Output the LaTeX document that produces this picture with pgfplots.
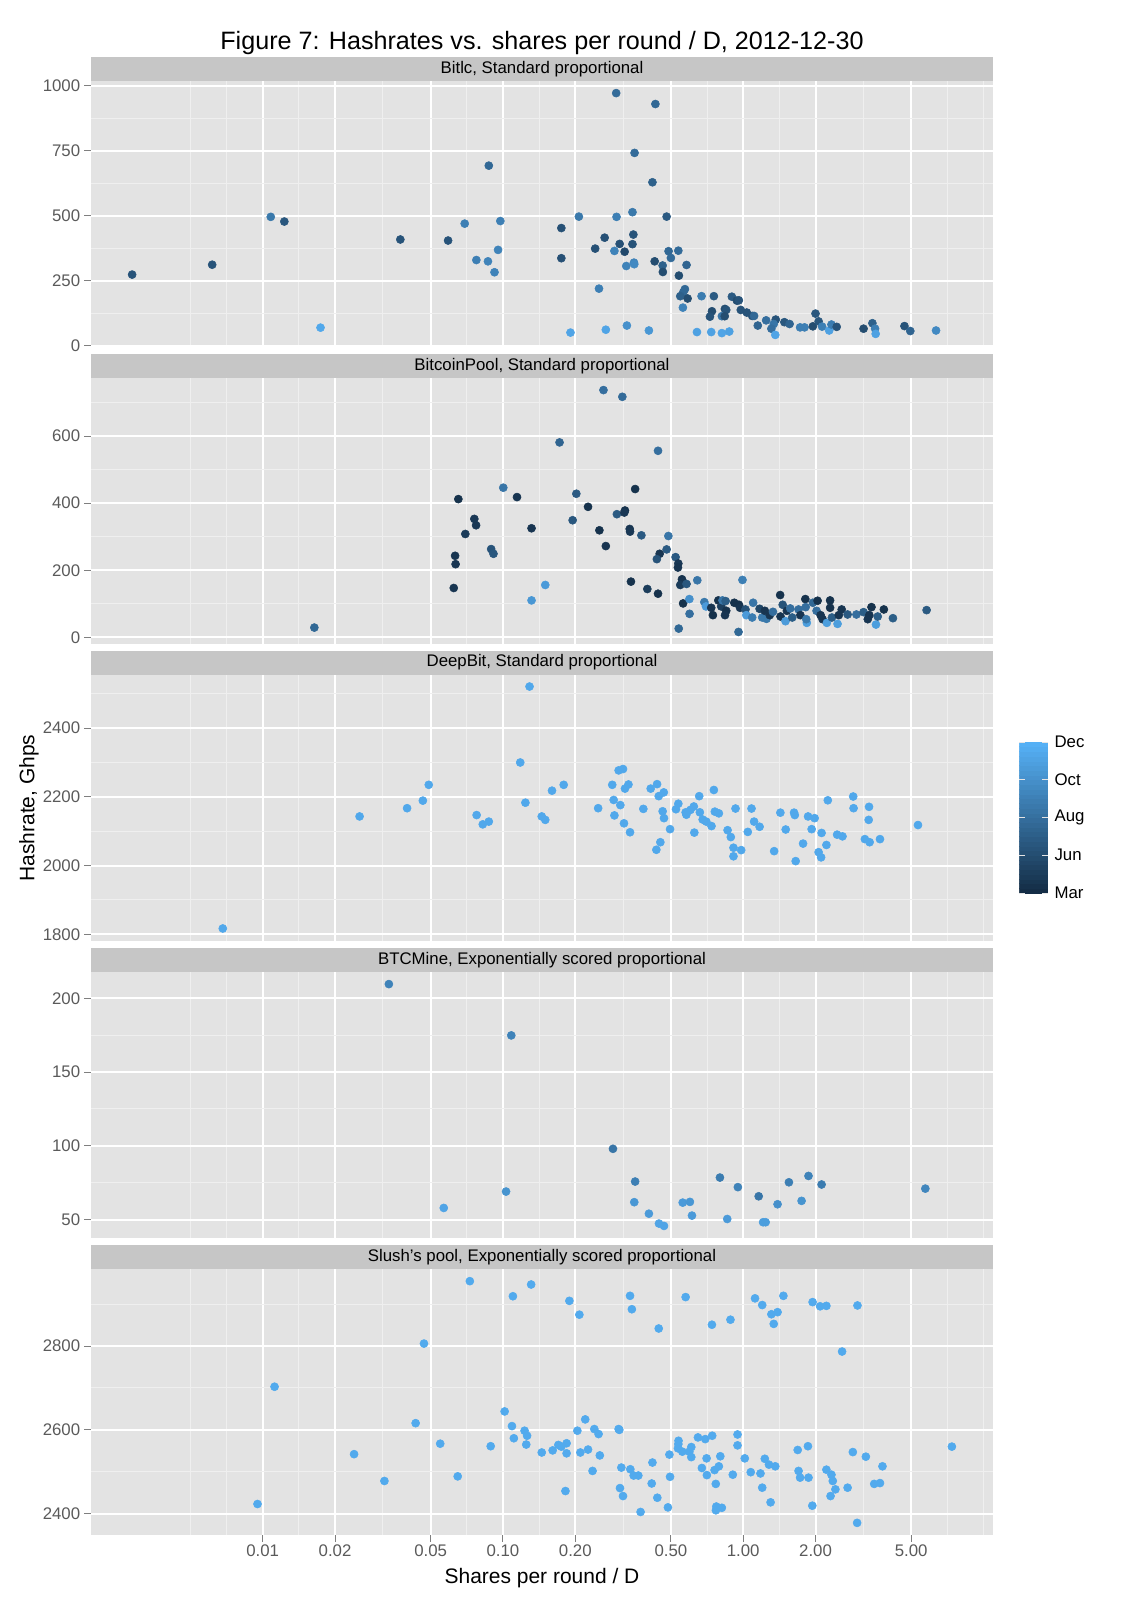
\documentclass[border=0pt]{standalone}
\usepackage{pgfplots}
\pgfplotsset{compat=1.18}
\usepackage{pgfplotstable}
\usepackage{fontspec}
\setmainfont{Liberation Sans}
\definecolor{panelbg}{HTML}{E3E3E3}
\definecolor{stripbg}{HTML}{C6C6C6}
\definecolor{minorgrid}{HTML}{EFEFEF}
\definecolor{ticktext}{HTML}{5A5A5A}
\definecolor{tickline}{HTML}{7F7F7F}
\pgfplotsset{colormap={gg}{rgb255=(19,43,67) rgb255=(86,177,247)}}
\pgfkeys{/pgf/number format/assume math mode=true}
\pgfplotsset{
 ggpanel/.style={
  scale only axis, width=649.44pt, height=191.52pt,
  xmin=0.001928, xmax=10.96,
  axis background/.style={fill=panelbg},
  axis line style={draw=none},
  xtick={0.01,0.02,0.05,0.1,0.2,0.5,1,2,5},
  minor xtick={0.005,0.0070711,0.0141421,0.0316228,0.0707107,0.1414214,0.3162278,0.7071068,1.4142136,3.1622777,7.0710678,10},
  xmajorgrids, ymajorgrids, xminorgrids, yminorgrids,
  major grid style={white, line width=1.44pt},
  minor grid style={minorgrid, line width=0.72pt},
  tick align=outside, xtick pos=bottom, ytick pos=left,
  major tick length=5pt, minor tick length=0pt,
  ytick style={draw=tickline, line width=0.72pt},
  tick label style={font=\fontsize{12.1}{14}\selectfont, text=ticktext},
  yticklabel style={inner sep=2.6pt},
  colormap name=gg, point meta min=0, point meta max=4,
  anchor=north west,
 },
 notbottom/.style={xticklabels={}, xtick style={draw=none}},
 ggpts/.style={scatter, only marks, mark=*, mark size=2.9pt, scatter src=explicit,
  scatter/use mapped color={draw=mapped color, fill=mapped color}},
}

\pgfplotstableread{
x y m
0.00286 273 1.2
0.00616 311 1.2
0.0108 495 2.3
0.0123 477 1.3
0.0174 69 3.7
0.0374 408 1.2
0.0591 404 1.2
0.0693 469 2.5
0.0873 692 1.8
0.0975 479 2.5
0.0954 368 2.6
0.0775 329 2.5
0.0866 324 2.6
0.0922 282 2.6
0.296 971 1.9
0.431 929 1.8
0.353 741 1.9
0.419 628 1.6
0.207 496 2.3
0.297 495 2.5
0.346 513 2.3
0.480 496 1.4
0.175 452 1.1
0.175 336 1.1
0.265 415 1.1
0.242 373 1.1
0.306 391 1.1
0.349 427 1.2
0.346 390 1.2
0.321 361 0.9
0.291 364 2.6
0.351 319 2.6
0.352 313 2.8
0.326 306 2.6
0.251 219 2.5
0.428 324 1.0
0.462 308 1.6
0.463 283 1.0
0.489 363 1.8
0.537 365 1.9
0.500 337 1.9
0.581 310 1.7
0.540 269 1.0
0.572 217 1.8
0.563 205 1.8
0.547 190 1.6
0.587 181 1.0
0.561 146 2.6
0.671 190 2.4
0.755 190 1.4
0.897 188 1.4
0.941 173 1.0
0.959 174 1.2
0.741 132 1.0
0.727 111 1.2
0.839 141 1.0
0.850 137 1.2
0.815 113 2.2
0.838 113 1.0
0.977 137 1.2
1.035 127 1.2
1.09 114 1.2
1.11 114 1.8
1.15 77 1.7
1.246 97 2.0
1.366 100 1.2
1.34 83 2.2
1.31 65 2.0
1.36 41 3.6
1.484 90 1.3
1.56 83 1.7
1.725 70 2.5
1.8 70 2.5
1.95 74 1.0
2.0 123 1.3
2.06 93 1.3
2.13 73 2.5
2.28 58 3.5
2.33 81 2.4
2.45 72 1.2
3.17 65 1.0
3.45 86 1.6
3.54 65 2.5
3.56 45 3.5
4.69 75 1.2
4.96 56 1.7
6.35 58 2.8
0.191 50 3.6
0.268 61 3.6
0.328 77 3.0
0.405 58 3.2
0.642 52 3.5
0.736 52 3.5
0.815 48 3.6
0.875 54 3.5
}\pA

\pgfplotstableread{
x y m
0.0164 29 1.8
0.0652 412 0.2
0.0760 353 0.4
0.0773 334 0.4
0.0697 308 0.5
0.0632 243 0.3
0.0635 218 0.3
0.0624 147 0.3
0.0893 263 1.2
0.0913 249 1.3
0.1003 446 2.2
0.1144 418 0.3
0.1315 325 0.3
0.1315 110 3.2
0.262 737 2.0
0.314 717 1.9
0.172 581 1.7
0.442 556 2.0
0.355 442 0.2
0.202 428 1.4
0.226 389 0.2
0.195 349 1.3
0.252 319 0.2
0.268 272 0.3
0.298 367 1.4
0.322 378 0.2
0.32 372 0.4
0.337 323 0.3
0.338 315 0.4
0.377 304 1.4
0.488 302 2.2
0.480 262 1.4
0.449 249 0.3
0.437 233 1.2
0.523 239 1.4
0.537 220 0.4
0.535 208 0.3
0.556 173 0.2
0.56 166 0.3
0.547 156 0.5
0.581 159 1.3
0.644 170 2.2
0.341 166 0.2
0.399 144 0.5
0.442 130 0.2
0.150 156 3.3
0.562 101 0.2
0.597 114 3.0
0.598 70 2.0
0.539 26 1.8
0.993 171 2.5
0.956 16 1.8
0.689 105 2.3
0.70 92 3.3
0.736 88 0.3
0.748 66 0.2
0.788 110 0.2
0.81 92 0.6
0.82 110 2.2
0.845 108 1.5
0.85 79 0.2
0.84 66 0.3
0.918 103 0.2
0.96 97 0.2
0.97 88 0.3
1.022 83 1.2
1.03 66 3.3
1.10 103 2.2
1.09 59 2.4
1.17 85 0.8
1.2 59 2.3
1.23 79 0.3
1.25 55 2.3
1.29 66 0.3
1.33 76 2.0
1.425 126 0.2
1.46 97 1.2
1.43 62 0.3
1.5 48 3.3
1.52 79 0.3
1.57 86 2.0
1.6 59 1.5
1.7 83 2.0
1.73 66 0.3
1.814 114 0.2
1.82 90 2.0
1.84 43 3.4
1.83 54 2.3
1.95 103 1.8
2.04 109 0.2
2.02 79 2.0
2.1 66 0.3
2.14 54 0.3
2.23 43 3.4
2.30 110 0.2
2.30 88 0.2
2.34 59 1.5
2.47 40 3.4
2.50 66 0.3
2.57 83 0.3
2.72 68 1.4
2.96 68 2.0
3.17 75 1.5
3.3 54 0.3
3.35 66 0.3
3.42 90 0.2
3.57 38 3.4
3.63 62 1.5
3.85 83 0.2
4.2 57 1.5
5.8 81 1.4
}\pB

\pgfplotstableread{
x y m
0.00682 1817 3.7
0.0253 2143 3.7
0.0399 2167 3.7
0.0464 2189 3.7
0.0491 2235 3.7
0.0777 2147 3.7
0.0824 2120 3.7
0.0873 2128 3.7
0.118 2300 3.7
0.129 2521 3.7
0.124 2183 3.7
0.145 2143 3.7
0.150 2133 3.7
0.160 2218 3.7
0.179 2235 3.7
0.249 2167 3.7
0.285 2235 3.7
0.303 2277 3.7
0.316 2281 3.7
0.289 2191 3.7
0.308 2176 3.7
0.291 2146 3.7
0.319 2123 3.7
0.338 2097 3.7
0.322 2224 3.7
0.333 2236 3.7
0.384 2165 3.7
0.412 2224 3.7
0.438 2237 3.7
0.445 2202 3.7
0.467 2213 3.7
0.462 2158 3.7
0.468 2138 3.7
0.452 2068 3.7
0.435 2046 3.7
0.496 2106 3.7
0.525 2164 3.7
0.537 2180 3.7
0.576 2155 3.7
0.58 2148 3.7
0.603 2162 3.7
0.623 2172 3.7
0.626 2096 3.7
0.656 2202 3.7
0.660 2155 3.7
0.678 2134 3.7
0.702 2128 3.7
0.738 2115 3.7
0.755 2220 3.7
0.762 2157 3.7
0.792 2152 3.7
0.861 2103 3.7
0.888 2083 3.7
0.911 2052 3.7
0.911 2027 3.7
0.981 2045 3.7
0.929 2166 3.7
1.045 2098 3.7
1.083 2166 3.7
1.11 2128 3.7
1.17 2113 3.7
1.345 2042 3.7
1.428 2154 3.7
1.503 2105 3.7
1.628 2154 3.7
1.64 2147 3.7
1.654 2013 3.7
1.775 2064 3.7
1.862 2143 3.7
1.983 2138 3.7
1.927 2106 3.7
2.12 2095 3.7
2.06 2039 3.7
2.11 2024 3.7
2.22 2060 3.7
2.25 2190 3.7
2.46 2090 3.7
2.59 2085 3.7
2.87 2201 3.7
2.88 2167 3.7
3.21 2077 3.7
3.36 2068 3.7
3.34 2171 3.7
3.33 2133 3.7
3.71 2077 3.7
5.34 2118 3.7
}\pC

\pgfplotstableread{
x y m
0.0335 209.7 2.6
0.1083 174.9 2.6
0.287 98 2.2
0.355 75.8 2.5
0.103 69 3.1
0.0567 57.9 3.6
0.352 61.8 3.2
0.405 54 3.3
0.446 47.3 3.6
0.468 45.7 3.6
0.56 61.5 3.3
0.60 62 3.2
0.612 52.7 3.3
0.80 78.5 2.4
0.858 50.4 3.3
0.95 72 2.6
1.16 65.8 2.2
1.21 48.2 3.4
1.24 48.2 3.4
1.39 60.4 3.0
1.55 75.3 2.5
1.75 62.7 3.1
1.87 79.6 2.6
2.12 73.8 2.4
5.73 71 2.7
}\pD

\pgfplotstableread{
x y m
0.00951 2423 3.75
0.0112 2703 3.75
0.0240 2542 3.75
0.0321 2478 3.75
0.0433 2616 3.75
0.0469 2806 3.75
0.0548 2567 3.75
0.0648 2489 3.75
0.0728 2955 3.75
0.0889 2561 3.75
0.1016 2644 3.75
0.110 2919 3.75
0.109 2609 3.75
0.111 2580 3.75
0.123 2598 3.75
0.126 2586 3.75
0.125 2565 3.75
0.131 2947 3.75
0.145 2546 3.75
0.161 2551 3.75
0.170 2564 3.75
0.175 2560 3.75
0.184 2568 3.75
0.184 2544 3.75
0.182 2454 3.75
0.189 2908 3.75
0.208 2875 3.75
0.204 2598 3.75
0.220 2625 3.75
0.210 2546 3.75
0.226 2553 3.75
0.236 2502 3.75
0.240 2602 3.75
0.250 2590 3.75
0.253 2539 3.75
0.338 2920 3.75
0.344 2888 3.75
0.445 2842 3.75
0.576 2917 3.75
0.741 2851 3.75
0.885 2863 3.75
1.12 2914 3.75
1.20 2898 3.75
1.31 2876 3.75
1.39 2881 3.75
1.34 2853 3.75
1.47 2920 3.75
1.945 2905 3.75
2.09 2895 3.75
2.22 2896 3.75
2.58 2787 3.75
2.99 2897 3.75
0.303 2602 3.75
0.305 2600 3.75
0.311 2510 3.75
0.307 2461 3.75
0.316 2442 3.75
0.339 2506 3.75
0.350 2491 3.75
0.366 2491 3.75
0.374 2404 3.75
0.419 2522 3.75
0.416 2472 3.75
0.439 2438 3.75
0.486 2415 3.75
0.493 2541 3.75
0.496 2488 3.75
0.538 2574 3.75
0.537 2566 3.75
0.535 2556 3.75
0.558 2548 3.75
0.597 2548 3.75
0.608 2559 3.75
0.608 2535 3.75
0.648 2582 3.75
0.695 2578 3.75
0.743 2586 3.75
0.673 2509 3.75
0.704 2532 3.75
0.706 2492 3.75
0.760 2504 3.75
0.792 2513 3.75
0.803 2537 3.75
0.769 2471 3.75
0.773 2417 3.75
0.770 2408 3.75
0.815 2414 3.75
0.905 2493 3.75
0.947 2589 3.75
0.947 2563 3.75
1.015 2532 3.75
1.075 2499 3.75
1.18 2496 3.75
1.20 2462 3.75
1.23 2531 3.75
1.28 2517 3.75
1.36 2513 3.75
1.30 2427 3.75
1.686 2552 3.75
1.86 2561 3.75
1.70 2502 3.75
1.725 2486 3.75
1.87 2486 3.75
1.94 2419 3.75
2.22 2505 3.75
2.33 2493 3.75
2.36 2478 3.75
2.42 2458 3.75
2.31 2442 3.75
2.72 2462 3.75
2.86 2547 3.75
3.24 2536 3.75
3.80 2513 3.75
3.51 2471 3.75
3.71 2473 3.75
7.39 2560 3.75
2.98 2378 3.75
}\pE

% colour scale of the legend bar (value at each band edge)
\pgfplotstableread{
x y m
0 0 0
1 0 0
0 0.125 0.125
1 0.125 0.125
0 0.25 0.25
1 0.25 0.25
0 0.375 0.375
1 0.375 0.375
0 0.5 0.5
1 0.5 0.5
0 0.625 0.625
1 0.625 0.625
0 0.75 0.75
1 0.75 0.75
0 0.875 0.875
1 0.875 0.875
0 1 1
1 1 1
0 1.125 1.125
1 1.125 1.125
0 1.25 1.25
1 1.25 1.25
0 1.375 1.375
1 1.375 1.375
0 1.5 1.5
1 1.5 1.5
0 1.625 1.625
1 1.625 1.625
0 1.75 1.75
1 1.75 1.75
0 1.875 1.875
1 1.875 1.875
0 2 2
1 2 2
0 2.125 2.125
1 2.125 2.125
0 2.25 2.25
1 2.25 2.25
0 2.375 2.375
1 2.375 2.375
0 2.5 2.5
1 2.5 2.5
0 2.625 2.625
1 2.625 2.625
0 2.75 2.75
1 2.75 2.75
0 2.875 2.875
1 2.875 2.875
0 3 3
1 3 3
0 3.125 3.125
1 3.125 3.125
0 3.25 3.25
1 3.25 3.25
0 3.375 3.375
1 3.375 3.375
0 3.5 3.5
1 3.5 3.5
0 3.625 3.625
1 3.625 3.625
0 3.75 3.75
1 3.75 3.75
0 3.875 3.875
1 3.875 3.875
0 4 4
1 4 4
}\pBar

\begin{document}
\begin{tikzpicture}
\useasboundingbox (0,0) rectangle (818.64pt,-1152pt);

% strips
\fill[stripbg] (65.52pt,-41.04pt) rectangle (714.96pt,-58.32pt);
\fill[stripbg] (65.52pt,-254.88pt) rectangle (714.96pt,-272.16pt);
\fill[stripbg] (65.52pt,-468.36pt) rectangle (714.96pt,-485.64pt);
\fill[stripbg] (65.52pt,-682.56pt) rectangle (714.96pt,-699.84pt);
\fill[stripbg] (65.52pt,-896.4pt) rectangle (714.96pt,-913.68pt);
\begin{scope}[every node/.style={font=\fontsize{12.1}{14}\selectfont, text=black, inner sep=0pt}]
\node at (390.24pt,-49.68pt) {Bitlc, Standard proportional};
\node at (390.24pt,-263.52pt) {BitcoinPool, Standard proportional};
\node at (390.24pt,-477.0pt) {DeepBit, Standard proportional};
\node at (390.24pt,-691.2pt) {BTCMine, Exponentially scored proportional};
\node at (390.24pt,-905.04pt) {Slush's pool, Exponentially scored proportional};
\end{scope}

\begin{semilogxaxis}[ggpanel, notbottom, at={(65.52pt,-58.32pt)},
  ymin=-5.5, ymax=1017.5,
  ytick={0,250,500,750,1000}, yticklabels={0,250,500,750,1000},
  minor ytick={125,375,625,875}]
\addplot[ggpts] table[meta=m] {\pA};
\end{semilogxaxis}

\begin{semilogxaxis}[ggpanel, notbottom, at={(65.52pt,-272.16pt)},
  ymin=-20, ymax=773,
  ytick={0,200,400,600}, yticklabels={0,200,400,600},
  minor ytick={100,300,500,700}]
\addplot[ggpts] table[meta=m] {\pB};
\end{semilogxaxis}

\begin{semilogxaxis}[ggpanel, notbottom, at={(65.52pt,-485.64pt)},
  ymin=1782, ymax=2556,
  ytick={1800,2000,2200,2400}, yticklabels={1800,2000,2200,2400},
  minor ytick={1900,2100,2300,2500}]
\addplot[ggpts] table[meta=m] {\pC};
\end{semilogxaxis}

\begin{semilogxaxis}[ggpanel, notbottom, at={(65.52pt,-699.84pt)},
  ymin=37.5, ymax=217.9,
  ytick={50,100,150,200}, yticklabels={50,100,150,200},
  minor ytick={75,125,175}]
\addplot[ggpts] table[meta=m] {\pD};
\end{semilogxaxis}

\begin{semilogxaxis}[ggpanel, at={(65.52pt,-913.68pt)},
  ymin=2349, ymax=2984,
  ytick={2400,2600,2800}, yticklabels={2400,2600,2800},
  minor ytick={2500,2700,2900},
  xticklabels={0.01,0.02,0.05,0.10,0.20,0.50,1.00,2.00,5.00},
  xticklabel style={inner sep=2pt},
  xtick style={draw=tickline, line width=0.72pt}]
\addplot[ggpts] table[meta=m] {\pE};
\end{semilogxaxis}

% colour bar (legend of the date colour scale)
\begin{axis}[at={(733.9pt,-534.24pt)}, anchor=north west,
  scale only axis, width=20.6pt, height=108.72pt,
  xmin=0, xmax=1, ymin=0, ymax=4,
  axis line style={draw=none}, axis on top,
  colormap name=gg, point meta min=0, point meta max=4,
  xtick=\empty,
  ytick={0,1,2,3,4}, yticklabels={Mar,Jun,Aug,Oct,Dec},
  ytick pos=both, yticklabel pos=right,
  tick align=inside, major tick length=4.3pt,
  ytick style={draw=white!80!gray, line width=0.72pt},
  yticklabel style={font=\fontsize{12.1}{14}\selectfont, text=black, inner sep=4.6pt},
  ]
\addplot[surf, shader=flat, mesh/cols=2, point meta=\thisrow{m}] table {\pBar};
\end{axis}

\node[font=\fontsize{18.1}{21}\selectfont] at (390.24pt,-30.6pt) {Figure 7: Hashrates vs. shares per round / D, 2012-12-30};
\node[font=\fontsize{15.1}{18}\selectfont] at (390.24pt,-1136pt) {Shares per round / D};
\node[font=\fontsize{15.1}{18}\selectfont, rotate=90] at (20.9pt,-581.76pt) {Hashrate, Ghps};
\end{tikzpicture}
\end{document}
